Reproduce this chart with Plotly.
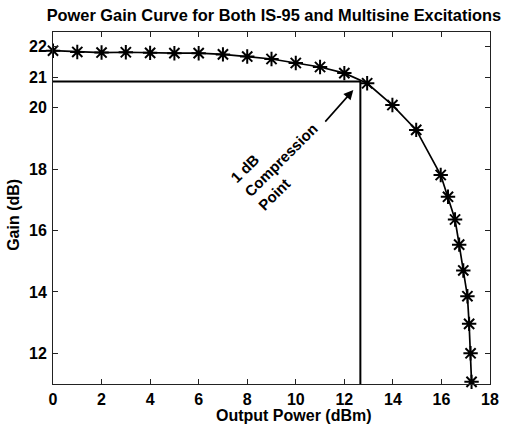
import plotly.graph_objects as go

# Data
output_power = [0, 1, 2, 3, 4, 5, 6, 7, 8, 9, 10, 11, 12,
                12.94, 13.98, 14.96, 15.97, 16.27, 16.56, 16.73, 16.90,
                17.07, 17.14, 17.20, 17.24]
gain = [21.86, 21.82, 21.80, 21.81, 21.79, 21.78, 21.78, 21.74, 21.67,
        21.59, 21.46, 21.33, 21.13, 20.80, 20.09, 19.28, 17.81, 17.10,
        16.36, 15.54, 14.70, 13.86, 12.96, 12.00, 11.07]

comp_power = 12.66
comp_gain = 20.86

x_ticks = [0, 2, 4, 6, 8, 10, 12, 14, 16, 18]
y_ticks = [12, 14, 16, 18, 20, 21, 22]
x_range = [0, 18]
y_range = [11, 22.47]

FONT = "Liberation Sans, Arial, sans-serif"

fig = go.Figure()

# 1 dB compression guide lines
fig.add_trace(go.Scatter(
    x=[x_range[0], comp_power, comp_power],
    y=[comp_gain, comp_gain, y_range[0]],
    mode="lines", line=dict(color="black", width=2),
    showlegend=False, hoverinfo="skip"))

# Gain curve
fig.add_trace(go.Scatter(
    x=output_power, y=gain, mode="lines+markers",
    line=dict(color="black", width=1.7),
    marker=dict(symbol="asterisk-open", size=12,
                line=dict(color="black", width=2)),
    cliponaxis=False, showlegend=False))

axis_common = dict(
    showgrid=False, zeroline=False, showline=True, mirror="ticks",
    linecolor="#222", linewidth=1, ticks="inside", ticklen=5,
    tickcolor="#222", tickwidth=1,
    tickfont=dict(family=FONT, size=16, color="black", weight="bold"),
)

fig.update_xaxes(range=x_range, tickvals=x_ticks, ticktext=[str(v) for v in x_ticks],
                 ticklabelstandoff=1, **axis_common)
fig.update_yaxes(range=y_range, tickvals=y_ticks, ticktext=[str(v) for v in y_ticks],
                 ticklabelstandoff=2, **axis_common)

fig.update_layout(
    width=510, height=424,
    margin=dict(l=53, r=11, t=32, b=40),
    paper_bgcolor="white", plot_bgcolor="white",
    font=dict(family=FONT, color="black"),
    title=dict(text="<b>Power Gain Curve for Both IS-95 and Multisine Excitations</b>",
               x=0.537, xanchor="center", y=0.965, yanchor="middle",
               font=dict(size=16.4, family=FONT, color="black")),
)

# Axis titles as annotations (positioned as in reference)
fig.add_annotation(text="<b>Output Power (dBm)</b>", xref="paper", yref="paper",
                   x=(299 - 53) / 446, y=-(415.5 - 383.7) / 351.4,
                   xanchor="center", yanchor="middle", showarrow=False,
                   font=dict(size=16, family=FONT, color="black"))
fig.add_annotation(text="<b>Gain (dB)</b>", xref="paper", yref="paper",
                   x=-(53 - 12) / 446, y=(383.7 - 215) / 351.4,
                   xanchor="center", yanchor="middle", textangle=-90, showarrow=False,
                   font=dict(size=16, family=FONT, color="black"))

# Compression point label
fig.add_annotation(text="<b>1 dB<br>Compression<br>Point</b>", x=9.38, y=18.30,
                   xref="x", yref="y", textangle=-45, align="left", showarrow=False,
                   font=dict(size=15, family=FONT, color="black"))
# Arrow
fig.add_annotation(text="", x=12.37, y=20.58, ax=11.16, ay=19.50,
                   xref="x", yref="y", axref="x", ayref="y",
                   showarrow=True, arrowhead=2, arrowsize=1.2, arrowwidth=1.6,
                   arrowcolor="black")

fig.write_html("out.html")
